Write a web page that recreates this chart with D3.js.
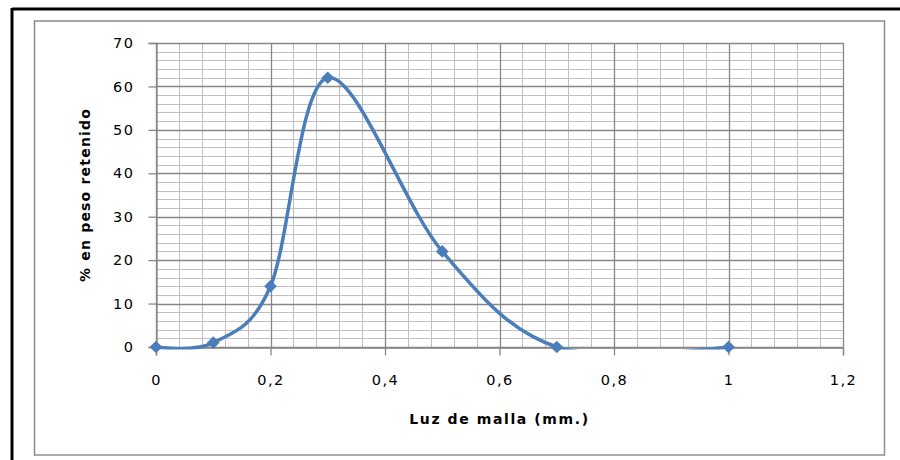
<!DOCTYPE html>
<html>
<head>
<meta charset="utf-8">
<script src="https://cdn.jsdelivr.net/npm/d3@7"></script>
<style>
  body { margin: 0; background: #fff; }
  text { font-family: "DejaVu Sans", Verdana, sans-serif; fill: #000; }
</style>
</head>
<body>
<svg id="chart"></svg>
<script>
const svgWidth = 900;
const svgHeight = 460;

// data
const meshSizes = [0, 0.1, 0.2, 0.3, 0.5, 0.7, 1.0];
const retained = [0, 1, 14, 62, 22, 0, 0];
const xTicks = [0, 0.2, 0.4, 0.6, 0.8, 1.0, 1.2];
const yTicks = [0, 10, 20, 30, 40, 50, 60, 70];

const points = meshSizes.map((d, i) => ({ x: d, y: retained[i] }));

const plot = { left: 156, right: 843, top: 43, bottom: 347 };
const blue = "#4a7ebb";

const svg = d3.select("#chart")
  .attr("width", svgWidth)
  .attr("height", svgHeight);

// outer black frame (top + left only, like the scan)
svg.append("line").attr("x1", 12).attr("x2", svgWidth).attr("y1", 9).attr("y2", 9)
  .attr("stroke", "#000").attr("stroke-width", 3);
svg.append("line").attr("x1", 12).attr("x2", 12).attr("y1", 8).attr("y2", svgHeight)
  .attr("stroke", "#000").attr("stroke-width", 3);

// chart area border
svg.append("rect")
  .attr("x", 34.5).attr("y", 21)
  .attr("width", 850).attr("height", 434)
  .attr("fill", "#fff")
  .attr("stroke", "#8c8c8c")
  .attr("stroke-width", 1.5);

const x = d3.scaleLinear().domain([0, 1.2]).range([plot.left, plot.right]);
const y = d3.scaleLinear().domain([0, 70]).range([plot.bottom, plot.top]);

// gridlines
const grid = svg.append("g").attr("class", "grid");
const minorX = d3.range(0, 1.2001, 0.04);
const minorY = d3.range(0, 70.01, 2);

grid.selectAll(".mx").data(minorX).enter().append("line")
  .attr("x1", d => Math.round(x(d)) + 0.5).attr("x2", d => Math.round(x(d)) + 0.5)
  .attr("y1", plot.top).attr("y2", plot.bottom)
  .attr("stroke", "#c0c0c0").attr("stroke-width", 1);
grid.selectAll(".my").data(minorY).enter().append("line")
  .attr("x1", plot.left).attr("x2", plot.right)
  .attr("y1", d => Math.round(y(d)) + 0.5).attr("y2", d => Math.round(y(d)) + 0.5)
  .attr("stroke", "#c0c0c0").attr("stroke-width", 1);

grid.selectAll(".Mx").data(xTicks).enter().append("line")
  .attr("x1", d => Math.round(x(d)) + 0.5).attr("x2", d => Math.round(x(d)) + 0.5)
  .attr("y1", plot.top).attr("y2", plot.bottom)
  .attr("stroke", "#878787").attr("stroke-width", 1.3);
grid.selectAll(".My").data(yTicks).enter().append("line")
  .attr("x1", plot.left).attr("x2", plot.right)
  .attr("y1", d => Math.round(y(d)) + 0.5).attr("y2", d => Math.round(y(d)) + 0.5)
  .attr("stroke", "#878787").attr("stroke-width", 1.3);

// axes
const fmt = d => d3.format("")(+d.toFixed(1)).replace(".", ",");

const xAxis = svg.append("g")
  .attr("transform", `translate(0,${plot.bottom + 0.5})`)
  .call(d3.axisBottom(x).tickValues(xTicks).tickSize(8).tickPadding(19).tickFormat(fmt));
const yAxis = svg.append("g")
  .attr("transform", `translate(${plot.left + 0.5},0)`)
  .call(d3.axisLeft(y).tickValues(yTicks).tickSize(8).tickPadding(14).tickFormat(d3.format("d")));

[xAxis, yAxis].forEach(a => {
  a.select(".domain").attr("stroke", "#878787").attr("stroke-width", 1.3);
  a.selectAll(".tick line").attr("stroke", "#878787").attr("stroke-width", 1.3);
  a.selectAll("text")
    .style("font-size", "14.5px")
    .style("letter-spacing", "1.5px")
    .attr("fill", "#000");
});

// axis titles
svg.append("text")
  .attr("x", (plot.left + plot.right) / 2)
  .attr("y", 424)
  .attr("text-anchor", "middle")
  .style("font-size", "14px")
  .style("font-weight", "bold")
  .style("letter-spacing", "1.6px")
  .text("Luz de malla (mm.)");

svg.append("text")
  .attr("transform", `translate(90,${(plot.top + plot.bottom) / 2}) rotate(-90)`)
  .attr("text-anchor", "middle")
  .style("font-size", "14px")
  .style("font-weight", "bold")
  .style("letter-spacing", "1.2px")
  .text("% en peso retenido");

// smoothed line, clipped to the plot area
svg.append("clipPath").attr("id", "plotclip")
  .append("rect")
  .attr("x", plot.left).attr("y", plot.top)
  .attr("width", plot.right - plot.left).attr("height", plot.bottom - plot.top + 2.5);

const line = d3.line()
  .x(d => x(d.x))
  .y(d => y(d.y))
  .curve(d3.curveCardinal.tension(0));

svg.append("path")
  .datum(points)
  .attr("clip-path", "url(#plotclip)")
  .attr("fill", "none")
  .attr("stroke", blue)
  .attr("stroke-width", 3.5)
  .attr("d", line);

// diamond markers
svg.selectAll(".marker")
  .data(points)
  .enter().append("path")
  .attr("class", "marker")
  .attr("transform", d => `translate(${x(d.x)},${y(d.y)}) rotate(45)`)
  .attr("d", "M-4.5,-4.5H4.5V4.5H-4.5Z")
  .attr("fill", blue);
</script>
</body>
</html>
